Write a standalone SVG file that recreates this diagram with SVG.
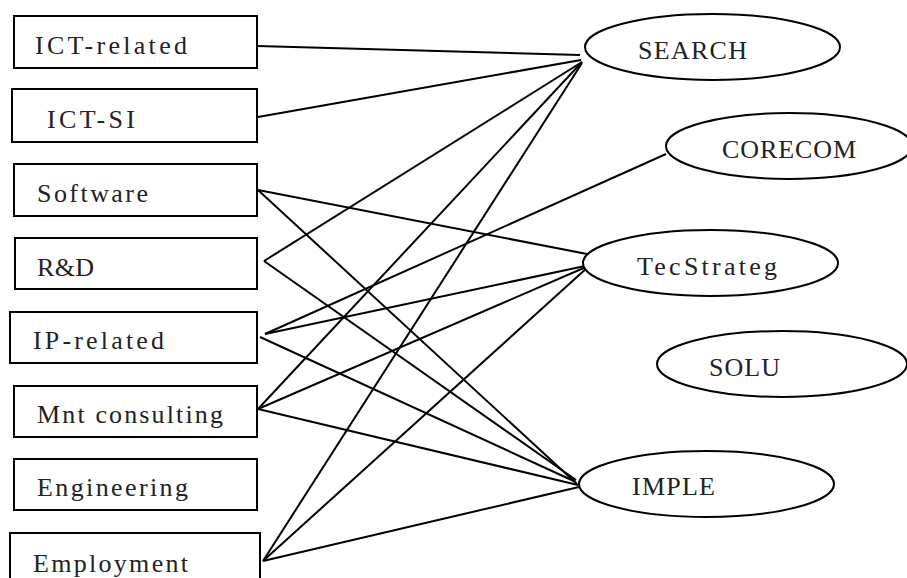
<svg xmlns="http://www.w3.org/2000/svg" width="907" height="578" viewBox="0 0 907 578">
  <style>
    .box { fill: #fff; stroke: #000; stroke-width: 2; }
    .oval { fill: #fff; stroke: #000; stroke-width: 2; }
    .lbl { font-family: "Liberation Serif", "Noto Serif CJK KR", serif; font-size: 26px; fill: #222; }
    .links line { stroke: #000; stroke-width: 2; }
  </style>
  <rect width="907" height="578" fill="#fff"/>

  <!-- connectors -->
  <g id="connectors" class="links">
    <line x1="257" y1="46" x2="580" y2="55"/>
    <line x1="258" y1="117" x2="581" y2="60"/>
    <line x1="258" y1="190" x2="587" y2="254"/>
    <line x1="258" y1="190" x2="577" y2="484"/>
    <line x1="264" y1="261" x2="582" y2="62"/>
    <line x1="264" y1="261" x2="576" y2="480"/>
    <line x1="265" y1="334" x2="666" y2="154"/>
    <line x1="265" y1="334" x2="585" y2="266"/>
    <line x1="260" y1="337" x2="576" y2="482"/>
    <line x1="258" y1="409" x2="582" y2="62"/>
    <line x1="258" y1="409" x2="586" y2="267"/>
    <line x1="258" y1="409" x2="578" y2="485"/>
    <line x1="263" y1="561" x2="582" y2="63"/>
    <line x1="263" y1="561" x2="588" y2="267"/>
    <line x1="263" y1="561" x2="579" y2="487"/>
  </g>

  <!-- source boxes -->
  <g id="ict-related">
    <rect class="box" x="14" y="16" width="243" height="52"/>
    <text class="lbl" x="35" y="54" textLength="152" lengthAdjust="spacing">ICT-related</text>
  </g>
  <g id="ict-si">
    <rect class="box" x="12" y="89" width="245" height="53"/>
    <text class="lbl" x="47" y="128" textLength="88" lengthAdjust="spacing">ICT-SI</text>
  </g>
  <g id="software">
    <rect class="box" x="14" y="164" width="243" height="52"/>
    <text class="lbl" x="37" y="202" textLength="111" lengthAdjust="spacing">Software</text>
  </g>
  <g id="rnd">
    <rect class="box" x="15" y="238" width="242" height="51"/>
    <text class="lbl" x="37" y="276" textLength="57" lengthAdjust="spacing">R&amp;D</text>
  </g>
  <g id="ip-related">
    <rect class="box" x="10" y="312" width="247" height="51"/>
    <text class="lbl" x="33" y="349" textLength="131" lengthAdjust="spacing">IP-related</text>
  </g>
  <g id="mnt-consulting">
    <rect class="box" x="14" y="386" width="243" height="51"/>
    <text class="lbl" x="37" y="423" textLength="186" lengthAdjust="spacing">Mnt consulting</text>
  </g>
  <g id="engineering">
    <rect class="box" x="14" y="459" width="243" height="51"/>
    <text class="lbl" x="37" y="496" textLength="151" lengthAdjust="spacing">Engineering</text>
  </g>
  <g id="employment">
    <rect class="box" x="10" y="533" width="250" height="60"/>
    <text class="lbl" x="33" y="572" textLength="155" lengthAdjust="spacing">Employment</text>
  </g>

  <!-- target ovals -->
  <g id="search">
    <ellipse class="oval" cx="712.5" cy="47" rx="127.5" ry="33"/>
    <text class="lbl" x="638" y="59" textLength="109" lengthAdjust="spacing">SEARCH</text>
  </g>
  <g id="corecom">
    <ellipse class="oval" cx="789" cy="146" rx="123" ry="33"/>
    <text class="lbl" x="722" y="158" textLength="134" lengthAdjust="spacing">CORECOM</text>
  </g>
  <g id="tecstrateg">
    <ellipse class="oval" cx="710.5" cy="263" rx="127.5" ry="33"/>
    <text class="lbl" x="637" y="275" textLength="140" lengthAdjust="spacing">TecStrateg</text>
  </g>
  <g id="solu">
    <ellipse class="oval" cx="782" cy="364" rx="125" ry="33"/>
    <text class="lbl" x="709" y="376" textLength="71" lengthAdjust="spacing">SOLU</text>
  </g>
  <g id="imple">
    <ellipse class="oval" cx="706.5" cy="484" rx="127.5" ry="33"/>
    <text class="lbl" x="632" y="495" textLength="83" lengthAdjust="spacing">IMPLE</text>
  </g>
</svg>
